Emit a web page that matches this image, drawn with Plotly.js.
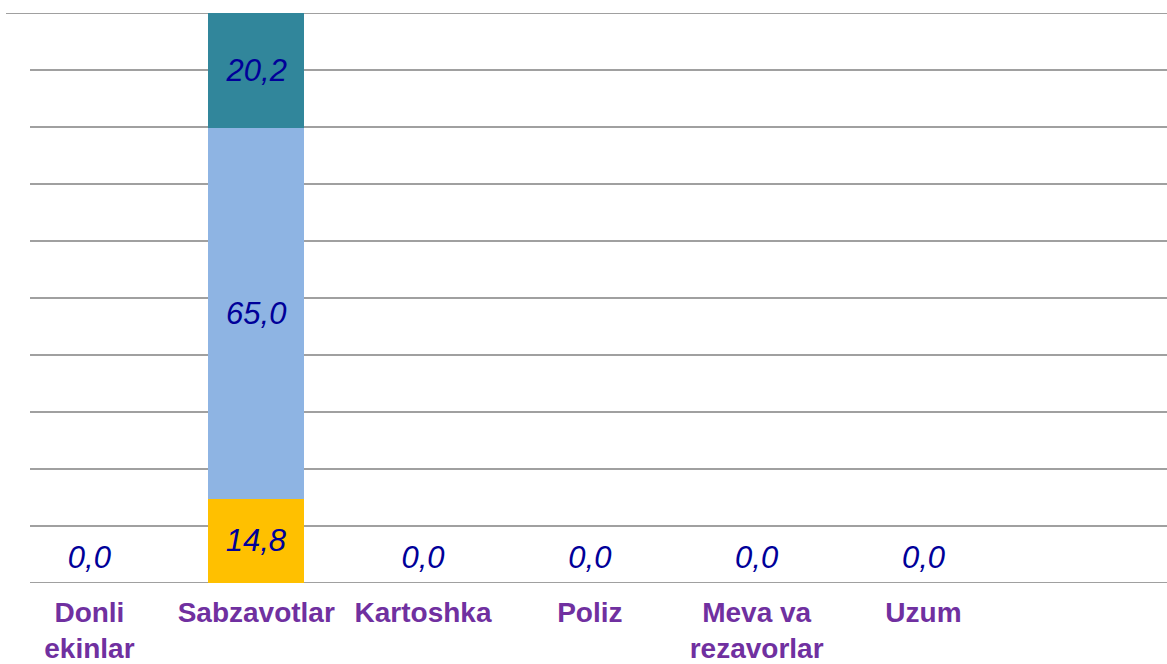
<!DOCTYPE html>
<html>
<head>
<meta charset="utf-8">
<script src="https://cdn.plot.ly/plotly-3.0.1.min.js"></script>
<style>html,body{margin:0;padding:0;background:#fff;}#chart{width:1167px;height:664px;}</style>
</head>
<body>
<div id="chart"></div>
<script>
const categories = ["Donli ekinlar", "Sabzavotlar", "Kartoshka", "Poliz", "Meva va rezavorlar", "Uzum"];
const tickLabels = ["Donli<br>ekinlar", "Sabzavotlar", "Kartoshka", "Poliz", "Meva va<br>rezavorlar", "Uzum"];
const seriesYellow = [0, 14.8, 0, 0, 0, 0];
const seriesBlue = [0, 65.0, 0, 0, 0, 0];
const seriesTeal = [0, 20.2, 0, 0, 0, 0];
const gridValues = [0, 10, 20, 30, 40, 50, 60, 70, 80, 90];

const labelFont = {family: "Arial, 'Liberation Sans', sans-serif", size: 31, color: "#000099", style: "italic"};

function barTrace(vals, color) {
  return {
    type: "bar", x: categories, y: vals,
    marker: {color: color, line: {width: 0}},
    text: vals.map(v => v > 0 ? v.toFixed(1).replace('.', ',') : ''),
    textposition: "inside", insidetextanchor: "middle",
    textfont: labelFont, hoverinfo: "skip", cliponaxis: false
  };
}

const totals = categories.map((c, i) => seriesYellow[i] + seriesBlue[i] + seriesTeal[i]);
const zeroCats = categories.filter((c, i) => totals[i] === 0);
const zeroText = totals.filter(t => t === 0).map(t => t.toFixed(1).replace('.', ','));

const traces = [
  barTrace(seriesYellow, "#FFC000"),
  barTrace(seriesBlue, "#8EB4E3"),
  barTrace(seriesTeal, "#31869B"),
  {type: "scatter", mode: "text", x: zeroCats, y: zeroCats.map(() => 4),
   text: zeroText, textposition: "middle center", textfont: labelFont, hoverinfo: "skip", cliponaxis: false}
];

const gx0 = (30 - 6) / 1161;
const shapes = gridValues.map(v => ({
  type: "line", xref: "paper", yref: "y", x0: gx0, x1: 1, y0: v, y1: v,
  line: {color: "#A0A0A0", width: 1.8}, layer: "below"
}));
shapes.push({type: "line", xref: "paper", yref: "y", x0: 0, x1: 1, y0: 100, y1: 100,
  line: {color: "#A0A0A0", width: 1.8}, layer: "below"});

const layout = {
  width: 1167, height: 664,
  margin: {l: 6, r: 0, t: 13, b: 81},
  paper_bgcolor: "#ffffff", plot_bgcolor: "#ffffff",
  barmode: "stack", bargap: 0.424,
  showlegend: false,
  separators: ", ",
  xaxis: {
    type: "category", range: [-0.5, 6.46], showgrid: false, zeroline: false, showline: false,
    tickmode: "array", tickvals: categories, ticktext: tickLabels, ticks: "",
    tickfont: {family: "Arial, 'Liberation Sans', sans-serif", size: 28, color: "#7030A0", weight: "bold"},
    ticklabelstandoff: 10
  },
  yaxis: {range: [0, 100], showgrid: false, zeroline: false, showline: false, showticklabels: false, ticks: ""},
  shapes: shapes
};

Plotly.newPlot("chart", traces, layout, {displayModeBar: false, staticPlot: true});
</script>
</body>
</html>
